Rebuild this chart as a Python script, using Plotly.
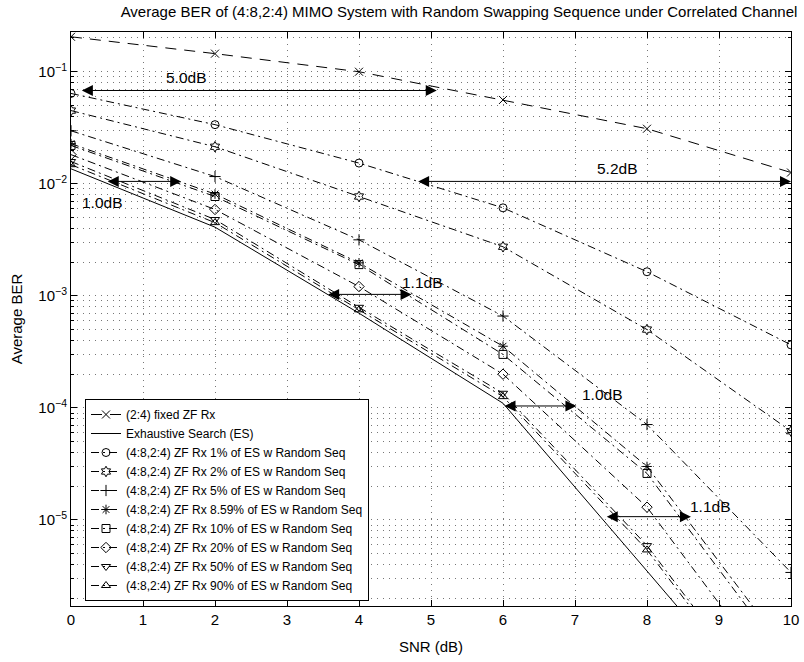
import plotly.graph_objects as go
import math

snr = [0, 2, 4, 6, 8, 10]

names = [
    "(2:4) fixed ZF Rx",
    "Exhaustive Search (ES)",
    "(4:8,2:4) ZF Rx 1% of ES w Random Seq",
    "(4:8,2:4) ZF Rx 2% of ES w Random Seq",
    "(4:8,2:4) ZF Rx 5% of ES w Random Seq",
    "(4:8,2:4) ZF Rx 8.59% of ES w Random Seq",
    "(4:8,2:4) ZF Rx 10% of ES w Random Seq",
    "(4:8,2:4) ZF Rx 20% of ES w Random Seq",
    "(4:8,2:4) ZF Rx 50% of ES w Random Seq",
    "(4:8,2:4) ZF Rx 90% of ES w Random Seq",
]

ber_fixed_zf = [0.205, 0.145, 0.100, 0.056, 0.031, 0.0126]
ber_es = [0.0136, 0.0041, 7.0e-4, 1.1e-4, 3.5e-6, 1.1e-7]
ber_1pct = [0.064, 0.0337, 0.0153, 0.0061, 0.00164, 3.65e-4]
ber_2pct = [0.045, 0.0214, 0.0077, 0.00274, 5.0e-4, 6.2e-5]
ber_5pct = [0.0297, 0.0116, 0.00316, 6.6e-4, 7.1e-5, 3.4e-6]
ber_859pct = [0.0228, 0.0081, 0.00197, 3.55e-4, 3.0e-5, 6.0e-7]
ber_10pct = [0.022, 0.0077, 0.0019, 3.0e-4, 2.6e-5, 5.0e-7]
ber_20pct = [0.0182, 0.0059, 0.00121, 2.0e-4, 1.3e-5, 2.5e-7]
ber_50pct = [0.0158, 0.0048, 7.9e-4, 1.35e-4, 5.9e-6, 1.2e-7]
ber_90pct = [0.0148, 0.0045, 7.5e-4, 1.26e-4, 5.4e-6, 1.1e-7]

series = [ber_fixed_zf, ber_es, ber_1pct, ber_2pct, ber_5pct, ber_859pct,
          ber_10pct, ber_20pct, ber_50pct, ber_90pct]
symbols = ["x-thin-open", None, "circle-open", "hexagram-open", "cross-thin-open",
           "asterisk-open", "square-open", "diamond-open", "triangle-down-open",
           "triangle-up-open"]
dashes = ["11px,8px", "solid"] + ["8px,4px,2px,4px"] * 8

# gap annotations: (x_left, x_right, ber, label, label_x, label_ber)
gap_x0 = [0.13, 4.80, 0.49, 3.55, 6.00, 7.42]
gap_x1 = [5.08, 10.0, 1.53, 4.73, 7.02, 8.61]
gap_ber = [0.068, 0.0105, 0.0105, 0.00103, 1.04e-4, 1.07e-5]
gap_text = ["5.0dB", "5.2dB", "1.0dB", "1.1dB", "1.0dB", "1.1dB"]
gap_tx = [1.61, 7.59, 0.44, 4.88, 7.385, 8.88]
gap_tber = [0.0893, 0.0136, 0.00684, 0.00132, 1.31e-4, 1.33e-5]

x_ticks = list(range(0, 11))
y_tickvals = [1e-5, 1e-4, 1e-3, 1e-2, 1e-1]
y_ticktext = ["10<sup>−5</sup>", "10<sup>−4</sup>", "10<sup>−3</sup>",
              "10<sup>−2</sup>", "10<sup>−1</sup>"]
y_minor = [m * 10.0 ** e for e in range(-6, 0) for m in range(2, 10)]

FONT = "Liberation Sans, Arial, Helvetica, sans-serif"

W, H = 804, 662
L, R, T, B = 71, 13, 32, 56

fig = go.Figure()
for name, ys, sym, dash in zip(names, series, symbols, dashes):
    if sym is None:
        fig.add_trace(go.Scatter(x=snr, y=ys, name=name, mode="lines",
                                 line=dict(color="black", width=1, dash=dash)))
    else:
        fig.add_trace(go.Scatter(x=snr, y=ys, name=name, mode="lines+markers",
                                 line=dict(color="black", width=1, dash=dash),
                                 marker=dict(symbol=sym, size=8, color="black",
                                             line=dict(color="black", width=1))))

annotations = []
for x0, x1, b, t, tx, tb in zip(gap_x0, gap_x1, gap_ber, gap_text, gap_tx, gap_tber):
    annotations.append(dict(x=x1, y=math.log10(b), ax=x0, ay=math.log10(b),
                            xref="x", yref="y", axref="x", ayref="y",
                            text="", showarrow=True, arrowside="end+start",
                            arrowhead=2, arrowsize=2.2, arrowwidth=1,
                            arrowcolor="black", standoff=0, startstandoff=0))
    annotations.append(dict(x=tx, y=math.log10(tb), xref="x", yref="y",
                            text=t, showarrow=False,
                            font=dict(size=15.5, color="black", family=FONT)))

fig.update_layout(
    width=W, height=H,
    margin=dict(l=L, r=R, t=T, b=B, autoexpand=False),
    paper_bgcolor="white", plot_bgcolor="white",
    font=dict(family=FONT, size=15, color="black"),
    title=dict(text="Average BER of (4:8,2:4) MIMO System with Random Swapping Sequence under Correlated Channel",
               x=459 / W, xanchor="center", y=1 - 12 / H, yanchor="middle",
               font=dict(size=15, family=FONT, color="black"), automargin=False),
    showlegend=True,
    legend=dict(x=(85 - 71) / 720, y=(606 - 399) / 574, xanchor="left", yanchor="top",
                bgcolor="white", bordercolor="black", borderwidth=1,
                font=dict(size=12, family=FONT, color="black"),
                tracegroupgap=0, itemwidth=30),
    annotations=annotations,
)
fig.update_xaxes(range=[0, 10], tickvals=x_ticks, ticks="inside", ticklen=6,
                 tickcolor="black", showline=True, linecolor="black", linewidth=1,
                 mirror="ticks", showgrid=True, gridcolor="#777", gridwidth=1,
                 griddash="1px,5px", zeroline=False, automargin=False,
                 title=dict(text="SNR (dB)", standoff=14, font=dict(size=15)),
                 tickfont=dict(size=15))
fig.update_yaxes(type="log", range=[-5.768, -0.6455], tickvals=y_tickvals,
                 ticktext=y_ticktext, ticks="inside", ticklen=6, tickcolor="black",
                 showline=True, linecolor="black", linewidth=1, mirror="ticks",
                 showgrid=True, gridcolor="#777", gridwidth=1, griddash="1px,5px",
                 zeroline=False, automargin=False,
                 minor=dict(tickmode="array", tickvals=y_minor, ticks="inside",
                            ticklen=3, tickcolor="black", showgrid=True,
                            gridcolor="#777", gridwidth=1, griddash="1px,5px"),
                 title=dict(text="Average BER", standoff=12, font=dict(size=15)),
                 tickfont=dict(size=15))

fig.write_html("out.html",
               config={"displayModeBar": False},
               post_script="document.body.style.margin='0';document.body.style.padding='0';")
